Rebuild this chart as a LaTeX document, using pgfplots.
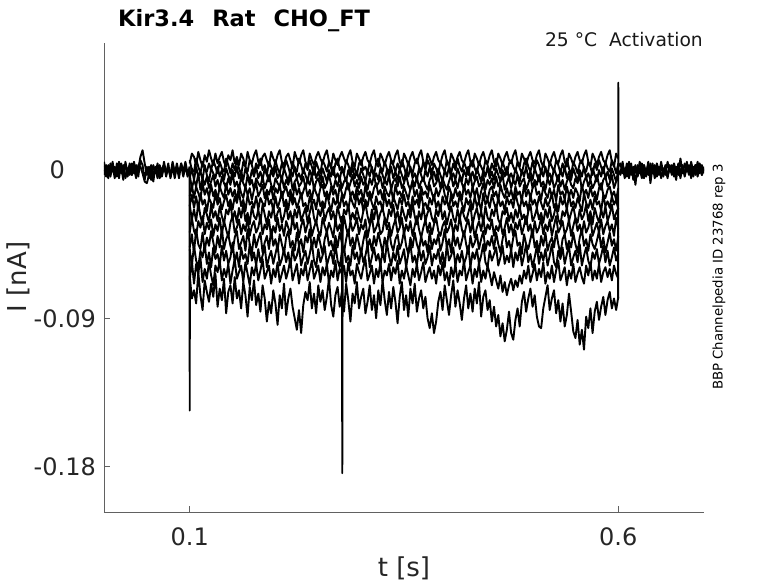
\documentclass[border=0pt]{standalone}
\usepackage{pgfplots}
\usepackage{pgfplotstable}
\pgfplotsset{compat=1.18}
\usepackage{fontspec}
\setmainfont{DejaVu Sans}

% currents in pA (axis labelled in nA)
\pgfplotstableread{
t a b c
0.0000 2 -3 5
0.0025 -4 3 -2
0.0050 3 -5 1
0.0075 -2 4 -4
0.0100 5 -1 3
0.0125 -3 2 -5
0.0150 1 -4 4
0.0175 -5 5 -1
0.0200 4 -2 2
0.0225 -1 3 -6
0.0250 3 -5 5
0.0275 -4 1 -2
0.0300 2 -3 4
0.0325 -3 4 -3
0.0350 5 -2 1
0.0375 -2 3 -5
0.0400 1 -4 3
0.0425 8 6 2
0.0450 12 3 -2
0.0475 4 -6 -7
0.0500 -3 2 -8
0.0525 2 -5 -3
0.0550 -6 1 3
0.0575 3 -7 -4
0.0600 -2 2 1
0.0625 4 -3 -5
0.0650 -5 3 2
0.0675 1 -4 -3
0.0700 3 2 5
0.0725 -4 -2 -2
0.0750 2 4 1
0.0775 -3 -5 -4
0.0800 5 1 3
0.0825 -1 -3 -5
0.0850 2 4 2
0.0875 -5 -2 -3
0.0900 4 3 4
0.0925 -2 -4 -1
0.0950 3 2 5
0.0975 -4 -3 -2
0.1000 1 2 -1
0.3500 nan nan nan
0.6000 0 2 -1
0.6025 -3 4 -2
0.6050 3 -2 5
0.6075 -5 1 -3
0.6100 2 -4 4
0.6125 -2 5 -5
0.6150 4 -3 2
0.6175 -6 2 -2
0.6200 1 -9 3
0.6225 -3 3 -4
0.6250 5 -2 1
0.6275 -1 4 -5
0.6300 3 -5 3
0.6325 -4 1 -2
0.6350 2 -3 5
0.6375 -2 4 -8
0.6400 4 -2 2
0.6425 -5 3 -3
0.6450 1 -4 4
0.6475 -3 2 -1
0.6500 5 -5 3
0.6525 -2 1 -4
0.6550 3 -3 2
0.6575 -4 5 -5
0.6600 2 -1 3
0.6625 -3 3 -2
0.6650 4 -4 1
0.6675 -1 2 -6
0.6700 3 -3 4
0.6725 -5 7 -2
0.6750 2 -2 3
0.6775 -3 4 -4
0.6800 5 -1 2
0.6825 -2 3 -3
0.6850 1 -5 5
0.6875 -4 2 -1
0.6900 3 -3 3
0.6925 -2 5 -4
0.6950 4 -2 2
0.6975 -3 3 -3
0.7000 2 -2 1
}\basetab

\pgfplotstableread{
t p1 p2 p3 p4 p5 p6 p7 p8 p9 p10 p11 p12
0.1000 4 6 -5 -3 -16 -22 -21 -38 -47 -48 -67 -64
0.1025 10 0 1 -11 -9 -15 -30 -29 -39 -58 -55 -78
0.1050 8 -1 -6 -6 -17 -23 -24 -37 -50 -46 -69 -73
0.1075 3 7 2 -10 -10 -16 -31 -40 -36 -55 -57 -81
0.1100 11 2 -4 -2 -14 -24 -20 -31 -45 -59 -63 -62
0.1125 6 -2 -1 -12 -18 -14 -28 -35 -48 -49 -53 -76
0.1150 2 5 -6 -5 -8 -21 -33 -28 -38 -53 -68 -85
0.1175 9 1 3 -9 -15 -18 -23 -39 -49 -45 -60 -67
0.1200 5 -1 -3 -4 -11 -25 -27 -32 -41 -57 -66 -74
0.1225 12 4 -7 -11 -17 -17 -32 -36 -46 -50 -56 -80
0.1250 7 0 1 -7 -9 -20 -21 -30 -37 -59 -64 -69
0.1275 3 6 -2 -3 -16 -23 -29 -40 -44 -47 -70 -77
0.1300 10 2 -5 -10 -12 -14 -25 -33 -50 -54 -58 -63
0.1325 4 -2 2 -6 -18 -21 -31 -37 -40 -51 -62 -83
0.1350 8 5 -4 -12 -10 -17 -22 -29 -47 -58 -55 -72
0.1375 11 1 0 -4 -14 -24 -28 -39 -35 -46 -67 -79
0.1400 5 -1 -6 -8 -17 -19 -33 -31 -48 -55 -60 -66
0.1425 2 7 1 -11 -8 -15 -24 -36 -42 -49 -65 -87
0.1450 9 3 -3 -5 -15 -22 -27 -41 -39 -57 -57 -74
0.1475 6 -2 -7 -9 -11 -18 -20 -32 -46 -53 -69 -70
0.1500 12 4 0 -2 -16 -24 -30 -28 -50 -44 -61 -81
0.1525 4 0 -4 -10 -12 -16 -25 -38 -41 -56 -54 -65
0.1550 8 6 2 -7 -19 -20 -32 -35 -37 -50 -66 -78
0.1575 3 1 -5 -12 -9 -13 -23 -30 -48 -59 -62 -73
0.1600 10 -3 -1 -4 -14 -22 -29 -39 -44 -47 -58 -84
0.1625 7 5 -6 -8 -17 -18 -21 -33 -40 -54 -68 -68
0.1650 2 2 1 -11 -10 -25 -31 -37 -49 -51 -56 -76
0.1675 11 -1 -3 -3 -15 -15 -26 -29 -36 -57 -63 -89
0.1700 6 6 -7 -9 -11 -21 -33 -40 -45 -45 -70 -71
0.1725 4 3 0 -6 -18 -19 -22 -34 -51 -55 -59 -79
0.1750 9 -2 -4 -12 -12 -23 -28 -31 -39 -50 -64 -67
0.1775 12 4 2 -5 -8 -16 -30 -38 -47 -58 -57 -82
0.1800 5 1 -5 -8 -16 -24 -24 -35 -42 -48 -67 -75
0.1825 3 7 -1 -10 -13 -17 -32 -28 -38 -56 -61 -86
0.1850 8 0 -6 -4 -9 -20 -21 -39 -50 -52 -54 -70
0.1875 10 3 1 -11 -17 -22 -27 -33 -44 -46 -66 -78
0.1900 6 -3 -3 -7 -12 -14 -33 -36 -40 -59 -62 -92
0.1925 2 5 -7 -3 -15 -21 -25 -30 -48 -53 -58 -80
0.1950 11 2 0 -9 -10 -18 -29 -41 -36 -49 -69 -87
0.1975 7 -1 -4 -12 -18 -25 -22 -34 -46 -57 -60 -73
0.2000 4 6 2 -5 -11 -16 -31 -38 -42 -51 -65 -81
0.2025 9 1 -5 -8 -14 -23 -26 -29 -49 -45 -56 -94
0.2050 12 -2 -2 -10 -9 -19 -23 -37 -39 -58 -68 -76
0.2075 5 4 -6 -4 -17 -13 -32 -33 -45 -54 -63 -84
0.2100 3 0 1 -11 -13 -22 -28 -40 -51 -48 -58 -69
0.2125 8 6 -3 -6 -10 -18 -21 -31 -41 -56 -66 -88
0.2150 10 2 -7 -9 -16 -24 -30 -35 -37 -50 -61 -78
0.2175 6 -3 0 -3 -12 -15 -25 -39 -47 -59 -54 -72
0.2200 1 5 -4 -12 -19 -21 -33 -28 -43 -47 -67 -83
0.2225 11 1 2 -7 -8 -17 -24 -36 -49 -55 -62 -90
0.2250 7 -1 -5 -5 -15 -23 -29 -32 -38 -52 -57 -97
0.2275 4 7 -2 -10 -11 -19 -22 -41 -46 -46 -69 -85
0.2300 9 3 -6 -8 -17 -14 -31 -34 -42 -58 -60 -99
0.2325 12 -2 1 -4 -13 -22 -27 -30 -50 -53 -64 -82
0.2350 5 4 -3 -11 -9 -20 -23 -38 -40 -49 -56 -74
0.2375 2 0 -7 -6 -16 -25 -32 -33 -44 -57 -67 -79
0.2400 10 6 0 -9 -12 -16 -26 -29 -36 -51 -61 -68
0.2425 6 2 -4 -3 -18 -21 -20 -40 -48 -44 -55 -84
0.2450 3 -3 2 -12 -10 -18 -29 -35 -41 -55 -66 -75
0.2475 8 5 -5 -7 -14 -24 -33 -31 -47 -59 -62 -87
0.2500 11 1 -1 -5 -17 -15 -24 -37 -39 -48 -58 -70
0.2525 7 -2 -6 -10 -11 -22 -28 -40 -45 -56 -68 -80
0.2550 4 6 1 -4 -9 -19 -21 -29 -51 -52 -59 -73
0.2575 9 3 -3 -11 -16 -23 -31 -34 -42 -46 -64 -85
0.2600 12 -1 -7 -8 -13 -14 -26 -38 -37 -58 -57 -77
0.2625 5 5 0 -3 -18 -20 -23 -32 -46 -53 -69 -66
0.2650 2 1 -4 -9 -10 -25 -30 -36 -43 -49 -61 -82
0.2675 10 -3 2 -12 -15 -17 -25 -41 -49 -57 -65 -89
0.2700 6 4 -5 -6 -12 -21 -32 -30 -40 -45 -55 -76
0.2725 3 7 -2 -10 -19 -18 -22 -37 -47 -55 -67 -71
0.2750 8 0 -6 -4 -9 -23 -28 -33 -38 -59 -60 -83
0.2775 11 2 1 -11 -14 -15 -33 -39 -44 -50 -63 -74
0.2800 7 -2 -3 -7 -17 -22 -24 -28 -50 -47 -58 -86
0.2825 4 6 -7 -5 -11 -19 -27 -35 -42 -56 -68 -69
0.2850 9 3 0 -12 -8 -24 -21 -40 -36 -52 -56 -79
0.2875 12 -1 -4 -8 -16 -16 -31 -31 -46 -58 -64 -92
0.2900 5 5 2 -3 -13 -20 -26 -37 -41 -46 -61 -75
0.2925 2 1 -5 -10 -18 -23 -30 -34 -48 -54 -69 -81
0.2950 10 -3 -1 -6 -10 -14 -23 -29 -39 -50 -57 -68
0.2975 7 4 -6 -11 -15 -21 -29 -39 -45 -57 -62 -84
0.3000 3 6 1 -4 -12 -17 -32 -33 -51 -48 -66 -77
0.3025 8 0 -3 -9 -19 -25 -25 -36 -43 -56 -59 -72
0.3050 11 2 -7 -7 -9 -18 -20 -30 -37 -52 -54 -87
0.3075 6 -2 0 -12 -16 -22 -28 -41 -47 -45 -67 -80
0.3100 4 5 -4 -5 -13 -15 -33 -34 -42 -59 -63 -70
0.3125 9 1 2 -9 -17 -20 -24 -28 -49 -53 -58 -85
0.3150 12 -3 -5 -3 -11 -24 -30 -38 -40 -47 -69 -76
0.3175 5 4 -2 -10 -8 -16 -22 -35 -46 -55 -60 -90
0.3200 2 7 -6 -8 -15 -21 -31 -31 -38 -51 -65 -73
0.3225 10 2 1 -4 -12 -19 -26 -39 -44 -58 -56 -82
0.3250 7 -1 -3 -11 -18 -25 -23 -37 -50 -49 -68 -67
0.3275 3 5 -7 -6 -10 -14 -29 -29 -41 -56 -61 -79
0.3300 8 1 0 -9 -14 -22 -32 -36 -47 -44 -64 -88
0.3325 11 -2 -4 -3 -16 -18 -24 -32 -36 -52 -57 -74
0.3350 6 6 2 -12 -11 -23 -28 -40 -45 -58 -67 -84
0.3375 4 3 -5 -7 -19 -16 -21 -34 -49 -50 -59 -71
0.3400 9 -1 -1 -5 -9 -20 -30 -30 -42 -55 -63 -80
0.3425 12 4 -6 -10 -15 -24 -25 -38 -39 -46 -55 -93
0.3450 5 0 1 -4 -13 -17 -33 -35 -48 -57 -69 -77
0.3475 2 6 -3 -11 -17 -21 -22 -29 -44 -53 -61 -68
0.3500 10 2 -7 -8 -10 -15 -27 -39 -37 -48 -66 -85
0.3525 7 -3 0 -3 -14 -22 -31 -33 -46 -59 -58 -76
0.3550 3 5 -4 -9 -18 -19 -24 -37 -51 -51 -64 -89
0.3575 8 1 2 -12 -11 -25 -29 -31 -41 -45 -70 -72
0.3600 11 -2 -5 -6 -8 -16 -20 -40 -47 -56 -60 -81
0.3625 6 4 -2 -10 -16 -21 -28 -34 -38 -52 -65 -69
0.3650 4 7 -6 -4 -12 -18 -33 -28 -45 -58 -57 -86
0.3675 9 2 1 -11 -19 -23 -25 -36 -49 -47 -67 -78
0.3700 12 -1 -3 -7 -10 -14 -30 -41 -40 -55 -62 -73
0.3725 5 5 -7 -5 -15 -22 -22 -35 -46 -49 -56 -84
0.3750 2 0 0 -9 -13 -20 -31 -30 -43 -57 -68 -77
0.3775 10 6 -4 -12 -17 -24 -26 -38 -50 -53 -63 -90
0.3800 7 3 2 -6 -9 -17 -23 -32 -37 -46 -59 -96
0.3825 3 -2 -5 -3 -14 -21 -29 -39 -48 -58 -66 -87
0.3850 8 4 -1 -10 -18 -15 -32 -33 -42 -51 -61 -99
0.3875 11 1 -6 -8 -11 -23 -24 -29 -45 -54 -69 -92
0.3900 6 -3 1 -4 -16 -19 -28 -37 -39 -48 -58 -80
0.3925 4 5 -3 -11 -12 -25 -21 -40 -49 -57 -64 -74
0.3950 9 2 -7 -5 -8 -16 -30 -34 -44 -50 -56 -85
0.3975 12 -1 0 -9 -15 -21 -25 -31 -36 -59 -67 -70
0.4000 5 6 -4 -12 -19 -18 -33 -38 -47 -45 -62 -79
0.4025 2 3 2 -7 -10 -24 -27 -35 -42 -55 -70 -88
0.4050 10 -2 -5 -3 -14 -14 -22 -30 -50 -52 -59 -76
0.4075 7 4 -2 -10 -17 -22 -29 -39 -38 -47 -65 -67
0.4100 3 0 -6 -6 -11 -19 -32 -33 -46 -58 -57 -83
0.4125 8 7 1 -11 -16 -23 -24 -37 -41 -51 -68 -73
0.4150 11 2 -3 -4 -13 -15 -30 -28 -48 -56 -61 -81
0.4175 6 -1 -7 -8 -18 -20 -23 -36 -43 -49 -64 -91
0.4200 4 5 0 -12 -9 -25 -28 -40 -37 -57 -55 -78
0.4225 9 1 -4 -5 -15 -17 -31 -34 -45 -53 -67 -70
0.4250 12 -3 2 -9 -12 -21 -26 -30 -51 -46 -62 -84
0.4275 5 4 -5 -3 -17 -18 -21 -38 -40 -59 -58 -75
0.4300 2 6 -1 -11 -10 -24 -33 -32 -47 -50 -69 -86
0.4325 10 1 -6 -7 -16 -16 -27 -41 -44 -54 -60 -72
0.4350 7 -2 1 -4 -11 -22 -23 -35 -39 -48 -65 -81
0.4375 3 5 -3 -10 -19 -19 -30 -31 -48 -57 -56 -68
0.4400 8 2 -7 -8 -13 -25 -25 -37 -42 -52 -68 -89
0.4425 11 -1 0 -3 -8 -14 -32 -29 -37 -45 -61 -77
0.4450 6 6 -4 -12 -15 -21 -22 -39 -49 -56 -66 -73
0.4475 4 3 2 -6 -18 -18 -29 -33 -43 -59 -58 -85
0.4500 9 -2 -5 -9 -12 -23 -31 -36 -46 -49 -63 -79
0.4525 12 4 -1 -5 -10 -15 -24 -30 -40 -55 -70 -92
0.4550 5 0 -6 -11 -16 -20 -28 -40 -48 -51 -62 -83
0.4575 2 7 1 -4 -13 -24 -21 -34 -38 -47 -67 -95
0.4600 10 3 -3 -10 -19 -17 -30 -37 -45 -58 -72 -88
0.4625 7 -2 -7 -7 -9 -22 -33 -31 -50 -53 -64 -101
0.4650 3 5 0 -3 -14 -19 -25 -39 -42 -46 -74 -93
0.4675 8 1 -4 -12 -17 -25 -27 -35 -36 -57 -68 -104
0.4700 11 -3 2 -8 -11 -16 -23 -29 -47 -52 -76 -97
0.4725 6 4 -5 -4 -16 -21 -31 -38 -43 -56 -70 -86
0.4750 4 6 -2 -11 -12 -18 -26 -33 -49 -48 -66 -99
0.4775 9 2 -6 -6 -18 -23 -32 -40 -41 -59 -73 -103
0.4800 12 -1 1 -9 -10 -14 -24 -32 -37 -50 -67 -91
0.4825 5 5 -3 -3 -15 -20 -29 -36 -46 -55 -71 -84
0.4850 2 1 -7 -10 -13 -24 -22 -30 -44 -47 -64 -95
0.4875 10 -2 0 -7 -19 -17 -30 -39 -51 -58 -69 -80
0.4900 7 4 -4 -5 -9 -22 -27 -34 -39 -52 -61 -74
0.4925 3 7 2 -12 -16 -19 -33 -28 -45 -45 -66 -86
0.4950 8 2 -5 -8 -12 -25 -25 -37 -48 -56 -58 -78
0.4975 11 -1 -1 -4 -17 -15 -21 -33 -42 -51 -68 -72
0.5000 6 5 -6 -11 -11 -21 -31 -41 -36 -59 -63 -83
0.5025 4 0 1 -6 -8 -18 -28 -31 -47 -53 -57 -76
0.5050 9 6 -3 -9 -15 -23 -23 -38 -43 -46 -67 -89
0.5075 12 3 -7 -3 -13 -16 -30 -35 -50 -57 -60 -95
0.5100 5 -2 0 -10 -18 -20 -26 -29 -40 -50 -65 -96
0.5125 2 4 -4 -7 -10 -24 -32 -39 -46 -55 -56 -84
0.5150 10 1 2 -12 -14 -17 -24 -33 -38 -48 -69 -77
0.5175 7 -3 -5 -5 -17 -22 -29 -37 -49 -58 -62 -70
0.5200 3 5 -2 -9 -11 -19 -22 -30 -44 -52 -66 -85
0.5225 8 2 -6 -4 -16 -14 -31 -40 -41 -45 -58 -78
0.5250 11 -1 1 -11 -12 -23 -27 -34 -47 -56 -68 -73
0.5275 6 6 -3 -8 -19 -20 -21 -28 -37 -59 -61 -87
0.5300 4 3 -7 -3 -9 -25 -30 -38 -45 -49 -55 -79
0.5325 9 -2 0 -10 -15 -16 -33 -35 -51 -54 -67 -92
0.5350 12 4 -4 -6 -13 -21 -25 -31 -42 -47 -63 -81
0.5375 5 0 2 -12 -18 -18 -28 -39 -39 -57 -59 -95
0.5400 2 7 -5 -7 -10 -24 -23 -36 -48 -51 -70 -88
0.5425 10 1 -1 -4 -16 -15 -31 -30 -43 -46 -61 -75
0.5450 7 -3 -6 -9 -12 -22 -26 -40 -47 -58 -66 -86
0.5475 3 5 1 -11 -17 -19 -22 -34 -38 -53 -57 -98
0.5500 8 2 -3 -5 -11 -23 -29 -29 -45 -49 -68 -102
0.5525 11 -2 -7 -8 -14 -17 -32 -37 -50 -56 -63 -91
0.5550 6 4 0 -3 -19 -21 -24 -33 -41 -45 -59 -106
0.5575 4 6 -4 -12 -9 -25 -30 -39 -36 -58 -65 -97
0.5600 9 1 2 -7 -15 -14 -27 -31 -46 -52 -69 -109
0.5625 12 -1 -5 -4 -12 -20 -21 -38 -42 -47 -58 -89
0.5650 5 5 -2 -10 -17 -23 -31 -35 -49 -55 -64 -96
0.5675 2 2 -6 -6 -10 -18 -25 -29 -39 -59 -56 -84
0.5700 10 -3 1 -11 -16 -24 -33 -40 -45 -50 -67 -99
0.5725 7 4 -3 -8 -13 -16 -23 -36 -48 -54 -61 -86
0.5750 3 0 -7 -3 -18 -21 -28 -32 -43 -48 -66 -80
0.5775 8 6 0 -9 -11 -19 -32 -38 -37 -57 -57 -91
0.5800 11 2 -4 -12 -8 -25 -24 -30 -47 -52 -68 -83
0.5825 6 -2 2 -6 -15 -15 -29 -39 -41 -46 -62 -77
0.5850 4 5 -5 -4 -17 -22 -22 -34 -50 -56 -59 -88
0.5875 9 1 -1 -10 -12 -19 -31 -31 -44 -49 -65 -79
0.5900 12 -1 -6 -8 -10 -23 -27 -37 -38 -58 -60 -74
0.5925 5 6 1 -3 -16 -16 -21 -33 -46 -53 -67 -84
0.5950 2 3 -3 -11 -13 -21 -30 -40 -42 -47 -58 -78
0.5975 10 -2 -7 -7 -18 -18 -26 -29 -49 -55 -63 -85
0.6000 7 4 0 -5 -11 -24 -23 -36 -40 -51 -66 -77
}\pulsetab

\begin{document}
\begin{tikzpicture}
\path[use as bounding box] (-104pt,-71pt) rectangle (674pt,512pt);
\begin{axis}[
  at={(0pt,0pt)}, anchor=south west,
  scale only axis, width=600pt, height=469pt,
  xmin=0, xmax=0.7, ymin=-207.6, ymax=77.1,
  axis x line*=bottom, axis y line*=left,
  axis line style={-, draw=black!62, line width=0.6pt},
  xtick={0.1,0.6}, xticklabels={0.1,0.6},
  ytick={-180,-90,0}, yticklabels={-0.18,-0.09,{0\hspace*{31pt}}},
  tick align=inside, major tick length=6pt,
  tick style={draw=black!62, line width=0.6pt},
  /pgf/number format/assume math mode=true,
  ticklabel style={font=\fontsize{24}{24}\selectfont, text=black!85},
  xticklabel style={anchor=north, inner sep=0pt, yshift=-15pt},
  yticklabel style={anchor=east, inner sep=0pt, xshift=-8pt},
  unbounded coords=jump,
  no markers,
  every axis plot post/.append style={black, solid, line width=1.9pt, line join=round},
]
\pgfplotsinvokeforeach{1,...,12}{
  \addplot table[x=t, y=p#1] {\pulsetab};
}
\addplot+[line width=2.4pt] table[x=t, y=a] {\basetab};
\addplot+[line width=2.4pt] table[x=t, y=b] {\basetab};
\addplot+[line width=2.4pt] table[x=t, y=c] {\basetab};
\addplot+[line width=1.5pt] coordinates {(0.0999,2) (0.1,-146) (0.1002,-60)};
\addplot+[line width=1.5pt] coordinates {(0.2775,-28) (0.278,-184) (0.2785,-30)};
\addplot+[line width=1.5pt] coordinates {(0.5998,-78) (0.6,53) (0.6003,-2)};
\end{axis}
\node[anchor=base west, font=\bfseries\fontsize{22.5}{22.5}\selectfont, text=black, inner sep=0pt]
  at (14pt,485pt) {Kir3.4\hspace*{18pt}Rat\hspace*{18pt}CHO\_FT};
\node[anchor=base east, font=\fontsize{18.7}{18.7}\selectfont, text=black!90, inner sep=0pt]
  at (599pt,465pt) {25 °C\hspace*{12pt}Activation};
\node[rotate=90, anchor=center, font=\fontsize{13.3}{13.3}\selectfont, text=black, inner sep=0pt]
  at (615pt,235pt) {BBP Channelpedia ID 23768 rep 3};
\node[rotate=90, anchor=base, font=\fontsize{26}{26}\selectfont, text=black!85, inner sep=0pt]
  at (-77pt,235pt) {I [nA]};
\node[anchor=base, font=\fontsize{26}{26}\selectfont, text=black!85, inner sep=0pt]
  at (300pt,-64.6pt) {t [s]};
\end{tikzpicture}
\end{document}
